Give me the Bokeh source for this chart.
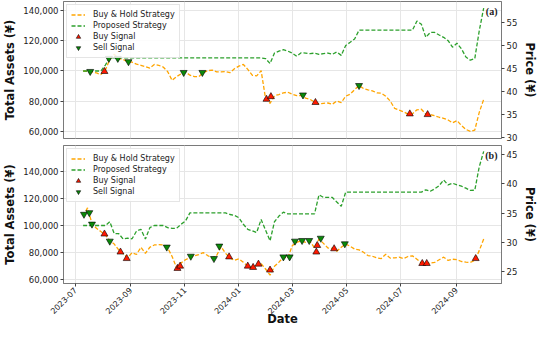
import pandas as pd
from math import pi
from bokeh.plotting import figure
from bokeh.layouts import column
from bokeh.models import (Range1d, LinearAxis, FixedTicker, NumeralTickFormatter,
                          DatetimeTickFormatter, MonthsTicker, Legend, LegendItem, Label)
from bokeh.embed import file_html
from bokeh.resources import INLINE

# ---------------- data ----------------
dates = pd.date_range("2023-07-10", periods=91, freq="5D")

buyhold_a = [100000, 99800, 99400, 98700, 97600, 100600, 107700, 111000, 108200, 107500,
             106200, 105800, 104500, 103700, 102800, 101900, 104300, 103700, 102600, 99600,
             93800, 96300, 98100, 99400, 97200, 96300, 96300, 98900, 100200, 100600,
             99400, 99400, 99600, 98900, 101500, 103200, 104300, 101100, 97200, 96800,
             100200, 81700, 78700, 83700, 84500, 85600, 86000, 84700, 83700, 83900,
             82100, 81300, 79600, 78300, 78700, 78900, 78100, 80200, 79100, 83400,
             84700, 87700, 90300, 88400, 87500, 86900, 85600, 85400, 83400, 80200,
             75300, 74200, 73100, 71600, 71800, 74400, 74800, 71600, 71200, 70500,
             69500, 68800, 67700, 65800, 67300, 64100, 61500, 60200, 61100, 72700,
             81300]
proposed_a = [100000, 100000, 100000, 100000, 100000, 103900, 108600, 108600, 108600, 108600,
              108600, 108600, 108600, 108600, 108600, 108600, 108600, 108600, 108600, 108600,
              108600, 108600, 108600, 108600, 108600, 108600, 108600, 108600, 108600, 108600,
              108600, 108600, 108600, 108600, 108600, 108600, 108600, 108600, 108600, 108600,
              108600, 108200, 104900, 111800, 113100, 114000, 113100, 111800, 109700, 112000,
              111800, 111400, 111800, 111000, 111400, 111800, 111000, 112500, 110300, 116800,
              118900, 121100, 126900, 126900, 126900, 126900, 126900, 126900, 126900, 126900,
              126900, 126900, 126900, 126900, 126900, 132900, 130800, 122200, 125400, 125400,
              123700, 122200, 120000, 115700, 118300, 114600, 109200, 107100, 108200, 126500,
              141500]
buy_a_dates = ["2023-08-03", "2024-02-01", "2024-02-06", "2024-03-27", "2024-07-11", "2024-07-31"]
buy_a_price = [44.33, 38.27, 38.84, 37.56, 35.07, 34.92]
sell_a_dates = ["2023-07-18", "2023-08-08", "2023-08-18", "2023-08-30", "2023-10-31",
                "2023-11-21", "2024-03-13", "2024-05-15"]
sell_a_price = [44.33, 47.18, 47.18, 46.46, 44.11, 44.11, 39.20, 41.26]

buyhold_b = [107000, 113100, 101400, 97900, 95500, 93000, 88600, 86200, 81800, 78900,
             75900, 79800, 78400, 83800, 79300, 83800, 85500, 85700, 85500, 83300,
             76900, 68600, 72000, 74500, 76200, 77400, 78400, 79800, 77600, 75900,
             77600, 84200, 79300, 75900, 74000, 75200, 72700, 69600, 68600, 70300,
             71500, 67600, 63000, 69600, 72700, 76400, 75900, 85000, 87400, 88600,
             87400, 88200, 83300, 89900, 86700, 83300, 83000, 80800, 83800, 86200,
             84500, 82500, 81800, 80100, 77600, 77100, 75900, 75400, 78600, 75700,
             75900, 76400, 75400, 76900, 77400, 74900, 72000, 71500, 72000, 72500,
             74500, 76400, 74000, 74900, 74500, 73200, 72700, 72500, 74000, 81300,
             89900]
proposed_b = [100000, 100000, 100000, 100000, 100000, 100000, 102800, 94000, 94000, 89900,
              90600, 90100, 95800, 97200, 89900, 98400, 100000, 100000, 100000, 98400,
              97900, 97900, 100900, 103300, 109400, 109400, 109400, 109400, 109400, 109400,
              109400, 109400, 109400, 108200, 107500, 105800, 100900, 97200, 96000, 94800,
              104500, 96500, 88600, 102800, 107000, 109900, 108700, 108700, 108700, 108700,
              108700, 108700, 108700, 122900, 120900, 120900, 120900, 117500, 114300, 124900,
              124900, 124900, 124900, 124900, 124900, 124900, 124900, 124900, 124900, 124900,
              124900, 124900, 124900, 124900, 124900, 124900, 124900, 126600, 125500, 127300,
              129700, 133900, 130200, 131500, 130200, 129300, 127800, 126100, 126300, 143700,
              155200]
buy_b_dates = ["2023-08-03", "2023-08-21", "2023-08-28", "2023-10-24", "2023-10-27",
               "2023-12-21", "2024-01-11", "2024-01-17", "2024-01-23", "2024-02-05",
               "2024-03-28", "2024-03-29", "2024-04-17", "2024-07-25", "2024-07-30",
               "2024-09-23"]
buy_b_price = [31.43, 28.36, 27.25, 25.57, 25.96, 27.53, 25.96, 25.74, 26.30, 25.29,
               28.36, 29.48, 28.92, 26.41, 26.41, 27.25]
sell_b_dates = ["2023-07-11", "2023-07-17", "2023-07-20", "2023-08-09", "2023-10-12",
                "2023-11-08", "2023-12-04", "2023-12-10", "2024-02-20", "2024-02-27",
                "2024-03-04", "2024-03-12", "2024-03-20", "2024-04-02", "2024-04-29"]
sell_b_price = [34.78, 35.06, 33.11, 30.21, 29.20, 27.64, 27.25, 29.37, 27.53, 27.53,
                30.21, 30.32, 30.32, 30.71, 29.76]

asset_ticks = [60000, 80000, 100000, 120000, 140000]
price_ticks_a = [30, 35, 40, 45, 50, 55]
price_ticks_b = [25, 30, 35, 40, 45]
month_ticks = [1, 3, 5, 7, 9, 11]          # calendar months shown on the date axis
x_start, x_end = pd.Timestamp("2023-06-18"), pd.Timestamp("2024-10-22")

# ---------------- style ----------------
FONT = "DejaVu Sans"
ORANGE = "#FFA500"
GREEN = "#2ca02c"
GRID = "#e6e6e6"
FRAME = "#7a7a7a"
bokeh_months = [m - 1 for m in month_ticks]   # Bokeh's MonthsTicker counts from 0


def style_axis(ax, label):
    ax.axis_label = label
    ax.axis_label_text_font = FONT
    ax.axis_label_text_font_style = "bold"
    ax.axis_label_text_font_size = "11.5px"
    ax.axis_label_text_line_height = 1.0
    ax.axis_label_text_color = "#111111"
    ax.axis_label_standoff = 3
    ax.major_label_text_font = FONT
    ax.major_label_text_font_size = "8.5px"
    ax.major_label_text_line_height = 1.0
    ax.major_label_text_color = "#222222"
    ax.major_label_standoff = 2
    ax.axis_line_color = FRAME
    ax.major_tick_line_color = "#444444"
    ax.major_tick_out = 3
    ax.major_tick_in = 0
    ax.minor_tick_line_color = None


def panel(tag, bh, prop, buy_d, buy_p, sell_d, sell_p, asset_rng, price_rng,
          price_ticks, height, top, bottom, show_x):
    p = figure(width=540, height=height, x_axis_type="datetime",
               x_range=Range1d(x_start, x_end), y_range=Range1d(*asset_rng),
               output_backend="svg", toolbar_location=None,
               min_border_left=56, min_border_right=33,
               min_border_top=top, min_border_bottom=bottom)
    p.outline_line_color = FRAME
    p.outline_line_width = 1
    p.background_fill_color = "white"
    p.extra_y_ranges = {"price": Range1d(*price_rng)}

    style_axis(p.yaxis[0], "Total Assets (¥)")
    p.yaxis[0].ticker = FixedTicker(ticks=asset_ticks)
    p.yaxis[0].formatter = NumeralTickFormatter(format="0,0")

    rax = LinearAxis(y_range_name="price")
    style_axis(rax, "Price (¥)")
    rax.ticker = FixedTicker(ticks=price_ticks)
    p.add_layout(rax, "right")

    p.xaxis.ticker = MonthsTicker(months=bokeh_months)
    p.xgrid.ticker = MonthsTicker(months=bokeh_months)
    p.ygrid.ticker = FixedTicker(ticks=asset_ticks)
    p.xgrid.grid_line_color = GRID
    p.ygrid.grid_line_color = GRID
    if show_x:
        style_axis(p.xaxis[0], "Date")
        p.xaxis.major_label_text_font_size = "8px"
        p.xaxis.formatter = DatetimeTickFormatter(months="%Y-%m", days="%Y-%m", years="%Y-%m")
        p.xaxis.major_label_orientation = pi / 4
        p.xaxis.axis_label_standoff = -8
    else:
        p.xaxis.visible = False

    r_bh = p.line(dates, bh, line_color=ORANGE, line_width=1.3, line_dash="4 2")
    r_pr = p.line(dates, prop, line_color=GREEN, line_width=1.3, line_dash="4 2")
    r_buy = p.scatter(pd.to_datetime(buy_d), buy_p, y_range_name="price", marker="triangle",
                      size=7, fill_color="#ff1a00", line_color="#000000", line_width=0.6)
    r_sell = p.scatter(pd.to_datetime(sell_d), sell_p, y_range_name="price",
                       marker="inverted_triangle", size=7, fill_color="#0a8a0a",
                       line_color="#000000", line_width=0.6)

    legend = Legend(items=[LegendItem(label="Buy & Hold Strategy", renderers=[r_bh]),
                           LegendItem(label="Proposed Strategy", renderers=[r_pr]),
                           LegendItem(label="Buy Signal", renderers=[r_buy]),
                           LegendItem(label="Sell Signal", renderers=[r_sell])],
                    location="top_left")
    legend.label_text_font = FONT
    legend.label_text_font_size = "8px"
    legend.label_text_color = "#222222"
    legend.glyph_width = 14
    legend.glyph_height = 11
    legend.label_height = 11
    legend.spacing = 0
    legend.padding = 4
    legend.margin = 3
    legend.label_standoff = 8
    legend.border_line_color = "#cccccc"
    legend.border_line_width = 1
    legend.background_fill_alpha = 0.85
    p.add_layout(legend)

    p.add_layout(Label(x=x_end, y=asset_rng[1], text=tag, text_align="right",
                       text_baseline="top", x_offset=-4, y_offset=-4,
                       text_font="Liberation Serif",
                       text_font_style="bold", text_font_size="10px", text_color="#222222"))
    return p


pa = panel("(a)", buyhold_a, proposed_a, buy_a_dates, buy_a_price, sell_a_dates, sell_a_price,
           (55500, 145800), (29.7, 59.6), price_ticks_a, 142, 1, 4, False)
pb = panel("(b)", buyhold_b, proposed_b, buy_b_dates, buy_b_price, sell_b_dates, sell_b_price,
           (56800, 159600), (23.0, 46.5), price_ticks_b, 187, 3, 5, True)

layout = column(pa, pb)
open("out.html", "w").write(file_html(layout, INLINE))
